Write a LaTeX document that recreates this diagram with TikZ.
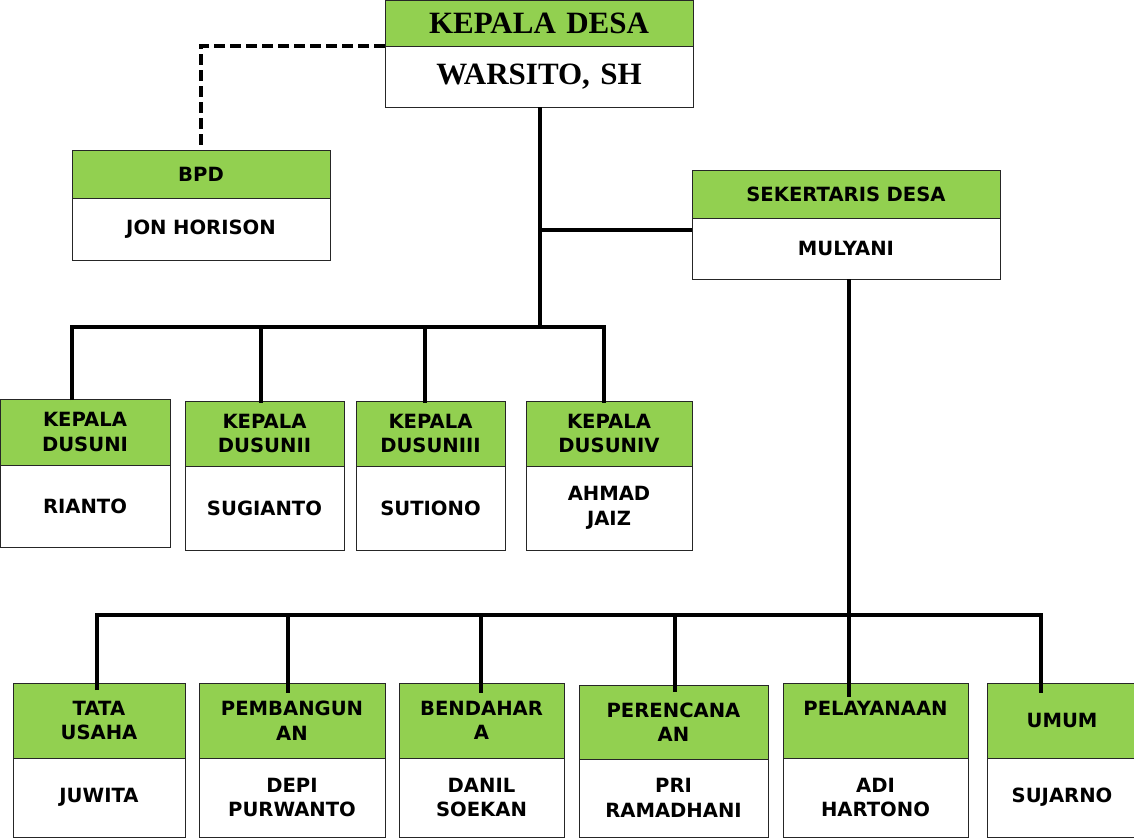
\documentclass[tikz,border=0pt]{standalone}
\usepackage{fontspec}
\setmainfont{DejaVu Sans}
\newfontfamily\serifb{Liberation Serif}
\definecolor{hgreen}{HTML}{92D050}
\tikzset{
  box/.style={draw=black!85, line width=0.9pt, inner sep=0pt, outer sep=0pt, anchor=north west, align=center,
    font=\bfseries\fontsize{19.6}{24.5}\selectfont},
  hdr/.style={box, fill=hgreen},
  nm/.style={box, fill=white},
  conn/.style={line width=4.2pt, black, line join=miter},
  dashline/.style={line width=3.6pt, black, dash pattern=on 11pt off 5pt},
  kdfont/.style={font=\serifb\bfseries\fontsize{31}{36}\selectfont},
}
\begin{document}
\begin{tikzpicture}[x=1pt,y=-1pt]
\useasboundingbox (0,0) rectangle (1134,839);
% Kepala Desa
\node[hdr, kdfont, text width=308pt, minimum height=46pt] (kdh) at (385,0) {KEPALA DESA};
\node[nm, kdfont, text width=308pt, minimum height=61pt] (kdn) at (kdh.south west) {WARSITO, SH};
% BPD
\node[hdr, text width=258pt, minimum height=48pt] (bpdh) at (72,150) {BPD};
\node[nm, text width=258pt, minimum height=62pt] (bpdn) at (bpdh.south west) {JON HORISON};
% Sekertaris
\node[hdr, text width=308pt, minimum height=48pt] (sekh) at (692,170) {SEKERTARIS DESA};
\node[nm, text width=308pt, minimum height=61pt] (sekn) at (sekh.south west) {MULYANI};
% Dusun
\node[hdr, text width=170pt, minimum height=66pt] (d1h) at (0,399) {KEPALA\\DUSUNI};
\node[nm, text width=170pt, minimum height=82pt] (d1n) at (d1h.south west) {RIANTO};
\node[hdr, text width=159pt, minimum height=65pt] (d2h) at (185,401) {KEPALA\\DUSUNII};
\node[nm, text width=159pt, minimum height=84pt] (d2n) at (d2h.south west) {SUGIANTO};
\node[hdr, text width=149pt, minimum height=65pt] (d3h) at (356,401) {KEPALA\\DUSUNIII};
\node[nm, text width=149pt, minimum height=84pt] (d3n) at (d3h.south west) {SUTIONO};
\node[hdr, text width=166pt, minimum height=65pt] (d4h) at (526,401) {KEPALA\\DUSUNIV};
\node[nm, text width=166pt, minimum height=84pt] (d4n) at (d4h.south west) {AHMAD\\JAIZ};
% Bottom row
\node[hdr, text width=172pt, minimum height=75pt] (b1h) at (13,683) {TATA\\USAHA};
\node[nm, text width=172pt, minimum height=79pt] (b1n) at (b1h.south west) {JUWITA};
\node[hdr, text width=186pt, minimum height=75pt] (b2h) at (199,683) {PEMBANGUN\\AN};
\node[nm, text width=186pt, minimum height=79pt] (b2n) at (b2h.south west) {DEPI\\PURWANTO};
\node[hdr, text width=165pt, minimum height=75pt] (b3h) at (399,683) {BENDAHAR\\A};
\node[nm, text width=165pt, minimum height=79pt] (b3n) at (b3h.south west) {DANIL\\SOEKAN};
\node[hdr, text width=189pt, minimum height=74pt] (b4h) at (579,685) {PERENCANA\\AN};
\node[nm, text width=189pt, minimum height=78pt] (b4n) at (b4h.south west) {PRI\\RAMADHANI};
\node[hdr, text width=185pt, minimum height=75pt] (b5h) at (783,683) {PELAYANAAN\\\phantom{X}};
\node[nm, text width=185pt, minimum height=79pt] (b5n) at (b5h.south west) {ADI\\HARTONO};
\node[hdr, text width=150pt, minimum height=75pt] (b6h) at (987,683) {UMUM};
\node[nm, text width=150pt, minimum height=79pt] (b6n) at (b6h.south west) {SUJARNO};
% connectors
\coordinate (j0) at (540,230);
\coordinate (t1) at (72,327);
\coordinate (t2) at (261,327);
\coordinate (t3) at (425,327);
\coordinate (t4) at (604,327);
\coordinate (s1) at (97,615);
\coordinate (s2) at (288,615);
\coordinate (s3) at (481,615);
\coordinate (s4) at (675,615);
\coordinate (s5) at (849,615);
\coordinate (s6) at (1041,615);
\draw[dashline] (kdh.south west) -| (bpdh.north);
\draw[conn] (kdn.south -| j0) -- (t4 -| j0);
\draw[conn] (j0) -- (j0 -| sekn.west);
\draw[conn] ([yshift=-1pt]t1 |- d1h.north) -- (t1) -- (t4) -- ([yshift=-2pt]t4 |- d4h.north);
\draw[conn] (t2) -- ([yshift=-2pt]t2 |- d2h.north);
\draw[conn] (t3) -- ([yshift=-2pt]t3 |- d3h.north);
\draw[conn] ([yshift=-7pt]s1 |- b1h.north) -- (s1) -- (s6) -- ([yshift=-10pt]s6 |- b6h.north);
\draw[conn] (s5 |- sekn.south) -- ([yshift=-14pt]s5 |- b5h.north);
\draw[conn] (s2) -- ([yshift=-10pt]s2 |- b2h.north);
\draw[conn] (s3) -- ([yshift=-10pt]s3 |- b3h.north);
\draw[conn] (s4) -- ([yshift=-7pt]s4 |- b4h.north);
\end{tikzpicture}
\end{document}
